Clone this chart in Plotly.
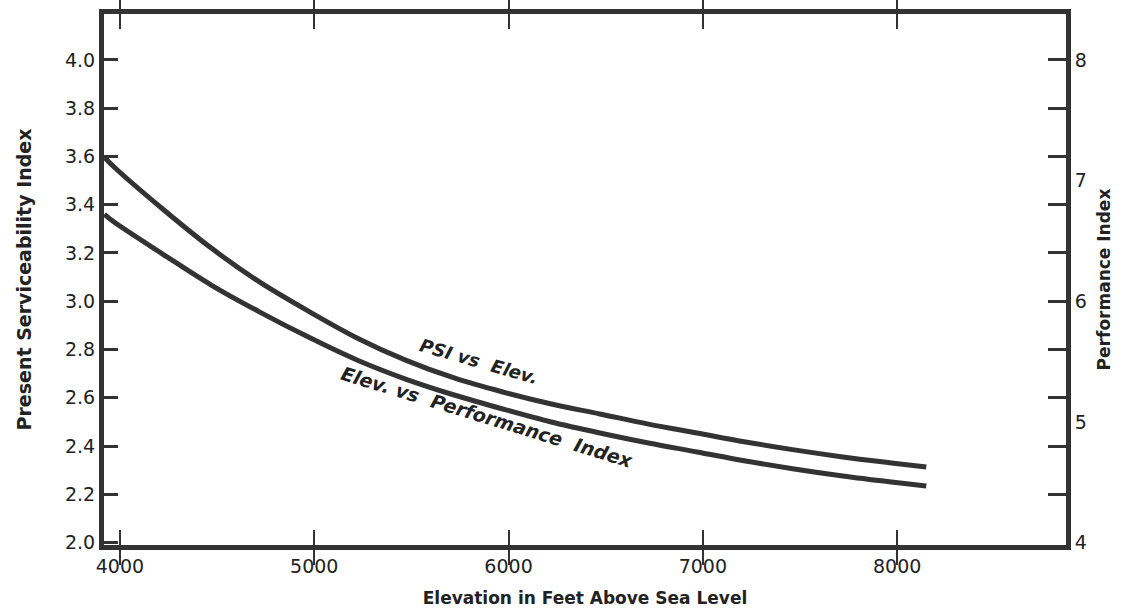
import plotly.graph_objects as go

# ---- data ----
elevation_ft = [3920, 3970, 4220, 4470, 4720, 4970, 5220, 5470, 5720, 5970,
                6220, 6470, 6720, 6970, 7220, 7470, 7720, 7970, 8150]
psi_values = [3.597, 3.556, 3.382, 3.220, 3.079, 2.959, 2.848, 2.756, 2.682, 2.624,
              2.574, 2.533, 2.491, 2.454, 2.417, 2.384, 2.355, 2.330, 2.313]
performance_index = [6.72, 6.656, 6.391, 6.134, 5.910, 5.703, 5.513, 5.355, 5.223, 5.107,
                     4.999, 4.908, 4.825, 4.751, 4.676, 4.610, 4.552, 4.502, 4.469]

x_ticks = [4000, 5000, 6000, 7000, 8000]
psi_ticks = [2.0, 2.2, 2.4, 2.6, 2.8, 3.0, 3.2, 3.4, 3.6, 3.8, 4.0]
pi_labels = [4, 5, 6, 7, 8]
pi_tickmarks = [4.4, 4.8, 5.2, 5.6, 6.0001, 6.4, 6.8, 7.2, 7.6, 8.0001]

series_names = ["PSI vs Elev.", "Elev. vs Performance Index"]

INK = "#333333"
TXT = "#222222"

fig = go.Figure()
fig.add_trace(go.Scatter(x=elevation_ft, y=psi_values, mode="lines",
                         name=series_names[0], line=dict(color=INK, width=5, shape="spline"),
                         yaxis="y"))
fig.add_trace(go.Scatter(x=elevation_ft, y=performance_index, mode="lines",
                         name=series_names[1], line=dict(color=INK, width=5, shape="spline"),
                         yaxis="y2"))

fig.add_annotation(x=5850, y=2.75, xref="x", yref="y", text="<b><i>PSI vs  Elev.</i></b>",
                   showarrow=False, textangle=16,
                   font=dict(family="DejaVu Sans", size=18, color=TXT))
fig.add_annotation(x=5890, y=2.52, xref="x", yref="y", text="<b><i>Elev. vs  Performance  Index</i></b>",
                   showarrow=False, textangle=17,
                   font=dict(family="DejaVu Sans", size=19, color=TXT))

fig.update_layout(
    width=1123, height=611,
    margin=dict(l=104, r=57, t=14, b=66, autoexpand=False),
    paper_bgcolor="white", plot_bgcolor="white",
    showlegend=False,
    xaxis=dict(range=[3918, 8869], tickvals=x_ticks, ticks="inside", ticklen=15,
               tickwidth=2, tickcolor=INK, showline=True, linewidth=5, linecolor=INK,
               mirror="allticks", showgrid=False, zeroline=False, automargin=False,
               tickfont=dict(family="DejaVu Sans", size=19, color=TXT),
               title=dict(text="<b>Elevation in Feet Above Sea Level</b>", standoff=18,
                          font=dict(family="DejaVu Sans", size=17, color=TXT))),
    yaxis=dict(range=[1.99, 4.19], tickvals=psi_ticks, tickformat=".1f",
               ticks="inside", ticklen=14, tickwidth=2.5, tickcolor=INK,
               showline=True, linewidth=5, linecolor=INK, showgrid=False, zeroline=False,
               automargin=False,
               tickfont=dict(family="DejaVu Sans", size=19, color=TXT),
               title=dict(text="<b>Present Serviceability Index</b>", standoff=30,
                          font=dict(family="DejaVu Sans", size=19, color=TXT))),
    yaxis2=dict(range=[3.98, 8.38], overlaying="y", side="right", anchor="x",
                tickvals=pi_labels, ticks="inside", ticklen=0, tickcolor=INK,
                minor=dict(tickmode="array", tickvals=pi_tickmarks, ticks="inside",
                           ticklen=18, tickwidth=2.5, tickcolor=INK, showgrid=False),
                showline=True, linewidth=5, linecolor=INK, showgrid=False, zeroline=False,
                automargin=False,
                tickfont=dict(family="DejaVu Sans", size=19, color=TXT),
                title=dict(text="<b>Performance Index</b>", standoff=14,
                           font=dict(family="DejaVu Sans", size=17, color=TXT))),
)

fig.write_html("out.html")
